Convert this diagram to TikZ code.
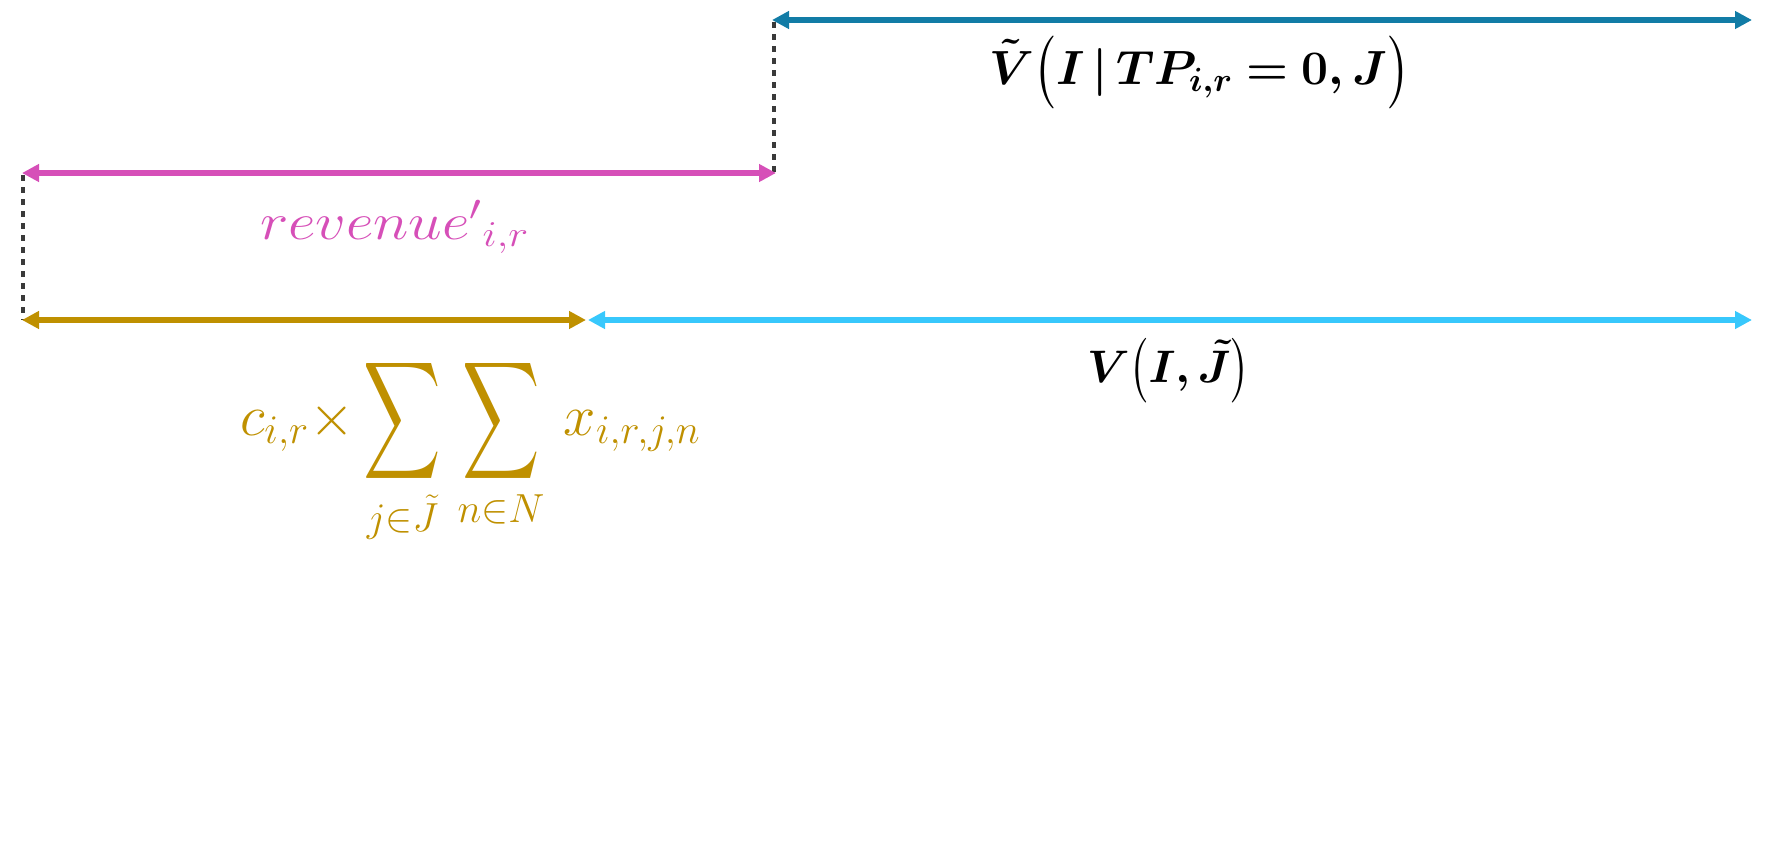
\RequirePackage{fix-cm}
\documentclass[tikz,border=0pt]{standalone}
\usepackage{amsmath}
\usepackage{bm}
\usepackage{graphicx}
\usetikzlibrary{arrows.meta}
\definecolor{topteal}{HTML}{127CA6}
\definecolor{revmag}{HTML}{D64FB8}
\definecolor{costgold}{HTML}{BF9000}
\definecolor{valcyan}{HTML}{38C8FC}
\definecolor{guidegray}{HTML}{3A3A3A}
\newcommand{\bigsum}{\mathop{\vcenter{\hbox{\scalebox{1.08}[1.65]{$\displaystyle\sum$}}}}\limits}
\newcommand{\lpar}[1]{\mathopen{\vcenter{\hbox{\scalebox{1}[#1]{$\bigl($}}}}}
\newcommand{\rpar}[1]{\mathclose{\vcenter{\hbox{\scalebox{1}[#1]{$\bigr)$}}}}}
\begin{document}
\begin{tikzpicture}[x=0.5pt,y=-0.5pt,
  dimline/.style={line width=2.7pt,{Triangle[length=8.5pt,width=8.5pt]}-{Triangle[length=8.5pt,width=8.5pt]}},
  guide/.style={draw=guidegray,line width=2pt,dash pattern=on 3pt off 3pt},
  lbl/.style={inner sep=0pt,outer sep=0pt}]
\useasboundingbox (0,0) rectangle (1770,862);
% endpoints
\coordinate (tL) at (772,20);
\coordinate (tR) at (1752,20);
\coordinate (mL) at (22,173);
\coordinate (mR) at (776,173);
\coordinate (gL) at (22,320);
\coordinate (gR) at (586,320);
\coordinate (cL) at (588,320);
\coordinate (cR) at (1752,320);
\coordinate (d1a) at (774,22);
\coordinate (d1b) at (774,172);
\coordinate (d2a) at (23,175);
\coordinate (d2b) at (23,320);
% guides
\draw[guide] (d1a) -- (d1b);
\draw[guide] (d2a) -- (d2b);
% dimension arrows
\draw[dimline,topteal] (tL) -- (tR);
\draw[dimline,revmag] (mL) -- (mR);
\draw[dimline,costgold] (gL) -- (gR);
\draw[dimline,valcyan] (cL) -- (cR);
% labels
\node[lbl,anchor=west] (vtilde) at (989,72) {\fontsize{24}{29}\selectfont $\bm{\tilde{V}\lpar{1.22}I\,|\,TP_{i,r}=0,J\rpar{1.22}}$};
\node[lbl,anchor=base west,text=revmag] (rev) at (260,239) {\scalebox{1.16}[1]{\fontsize{26}{31}\selectfont ${revenue'}_{i,r}$}};
\node[lbl,anchor=west] (vij) at (1087,371) {\fontsize{22.8}{27}\selectfont $\bm{V\lpar{1.3}I,\tilde{J}\rpar{1.3}}$};
\node[lbl,anchor=base west,text=costgold] (cost) at (240,435) {\fontsize{29}{35}\selectfont $\displaystyle c_{i,r}{\times}\bigsum_{j\in\tilde{J}}\mkern2mu\bigsum_{n\in N}\mkern3mu x_{i,r,j,n}$};
\end{tikzpicture}
\end{document}
